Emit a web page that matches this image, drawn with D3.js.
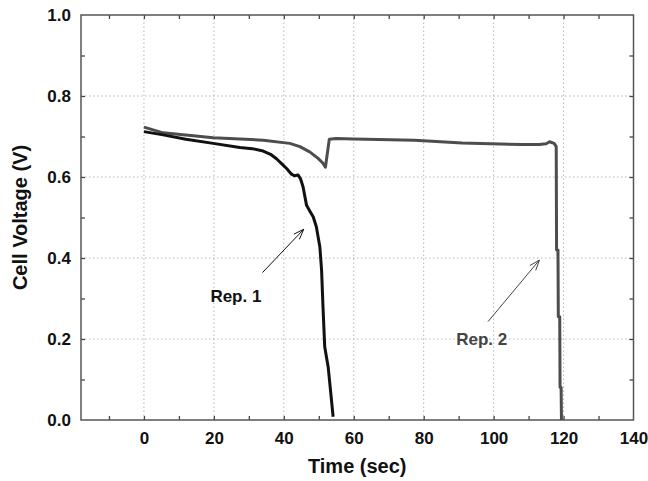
<!DOCTYPE html>
<html>
<head>
<meta charset="utf-8">
<script src="https://cdn.jsdelivr.net/npm/d3@7"></script>
<style>
  html, body { margin: 0; padding: 0; background: #fff; }
  svg { display: block; }
  text { font-family: "Liberation Sans", Arial, sans-serif; font-weight: bold; }
</style>
</head>
<body>
<svg id="chart" width="648" height="481"></svg>
<script>
// ---- data ----
const rep1Time = [0, 5.5, 12, 19.8, 27.4, 31, 34.1, 36.2, 37.9, 39.5, 40.8, 42.2, 43.0, 44.1, 44.8, 45.5, 46.5, 47.5, 48.4, 49.3, 50.3, 50.8, 51.2, 51.7, 52.7, 54.1];
const rep1Volt = [0.712, 0.704, 0.693, 0.683, 0.673, 0.670, 0.664, 0.656, 0.645, 0.632, 0.621, 0.607, 0.603, 0.605, 0.595, 0.576, 0.530, 0.515, 0.502, 0.477, 0.428, 0.37, 0.28, 0.18, 0.13, 0.008];

const rep2Time = [0, 5.5, 19.8, 34.1, 41.7, 44.6, 47.4, 49.8, 51.2, 51.9, 53.0, 55, 60, 77.4, 91, 108, 113, 115, 116, 117.3, 117.9, 118.0, 118.4, 118.5, 118.9, 119.0, 119.3, 119.4];
const rep2Volt = [0.723, 0.709, 0.697, 0.691, 0.683, 0.675, 0.662, 0.646, 0.634, 0.624, 0.693, 0.695, 0.694, 0.691, 0.684, 0.680, 0.680, 0.682, 0.687, 0.683, 0.675, 0.42, 0.42, 0.255, 0.255, 0.08, 0.08, 0.0];

const xMajorTicks = [0, 20, 40, 60, 80, 100, 120, 140];
const xMinorTicks = [-10, 0, 10, 20, 30, 40, 50, 60, 70, 80, 90, 100, 110, 120, 130];
const yMajorTicks = [0.0, 0.2, 0.4, 0.6, 0.8, 1.0];
const yMinorTicks = [0.1, 0.2, 0.3, 0.4, 0.5, 0.6, 0.7, 0.8, 0.9];
const xGrid = [0, 20, 40, 60, 80, 100, 120];
const yGrid = [0.2, 0.4, 0.6, 0.8];

const annotations = [
  { label: "Rep. 1", textT: 19, textV: 0.292, fromT: 33.9, fromV: 0.364, toT: 45.7, toV: 0.471, color: "#111" },
  { label: "Rep. 2", textT: 89.3, textV: 0.185, fromT: 98.4, fromV: 0.243, toT: 113.1, toV: 0.395, color: "#444" }
];

// ---- layout ----
const W = 648, H = 481;
const m = { left: 81, top: 15, right: 14.5, bottom: 61 };
const svg = d3.select("#chart");

const x = d3.scaleLinear().domain([-18, 140]).range([m.left, W - m.right]);
const y = d3.scaleLinear().domain([0, 1]).range([H - m.bottom, m.top]);

// grid
const grid = svg.append("g").attr("stroke", "#b8b8b8").attr("stroke-width", 1).attr("stroke-dasharray", "1.5,2.5");
grid.selectAll(".gx").data(xGrid).join("line")
  .attr("x1", d => x(d)).attr("x2", d => x(d)).attr("y1", y(0)).attr("y2", y(1));
grid.selectAll(".gy").data(yGrid).join("line")
  .attr("y1", d => y(d)).attr("y2", d => y(d)).attr("x1", x(-18)).attr("x2", x(140));

// ticks (inward, all four sides)
const tickLen = 4;
const tickColor = "#444";
function ticks(axisGen, transform) {
  const g = svg.append("g").attr("transform", transform).call(axisGen);
  g.select(".domain").remove();
  g.selectAll("line").attr("stroke", tickColor).attr("stroke-width", 1.3);
  return g;
}
ticks(d3.axisBottom(x).tickValues(xMinorTicks).tickSize(-tickLen).tickFormat(""), `translate(0,${y(0)})`);
ticks(d3.axisTop(x).tickValues(xMinorTicks).tickSize(-tickLen).tickFormat(""), `translate(0,${y(1)})`);
ticks(d3.axisLeft(y).tickValues(yMinorTicks).tickSize(-tickLen).tickFormat(""), `translate(${x(-18)},0)`);
ticks(d3.axisRight(y).tickValues(yMinorTicks).tickSize(-tickLen).tickFormat(""), `translate(${x(140)},0)`);

// tick labels
const xl = svg.append("g").attr("transform", `translate(0,${y(0)})`)
  .call(d3.axisBottom(x).tickValues(xMajorTicks).tickSize(0).tickPadding(12).tickFormat(d3.format("d")));
xl.select(".domain").remove();
xl.selectAll("text").attr("font-size", 17).attr("font-weight", "bold").attr("fill", "#111")
  .attr("font-family", "Liberation Sans, Arial, sans-serif");

const yl = svg.append("g").attr("transform", `translate(${x(-18)},0)`)
  .call(d3.axisLeft(y).tickValues(yMajorTicks).tickSize(0).tickPadding(10).tickFormat(d3.format(".1f")));
yl.select(".domain").remove();
yl.selectAll("text").attr("font-size", 17).attr("font-weight", "bold").attr("fill", "#111")
  .attr("font-family", "Liberation Sans, Arial, sans-serif");

// frame
svg.append("rect").attr("x", x(-18)).attr("y", y(1))
  .attr("width", x(140) - x(-18)).attr("height", y(0) - y(1))
  .attr("fill", "none").attr("stroke", "#555").attr("stroke-width", 1.5);

// lines
const line = d3.line().x(d => x(d[0])).y(d => y(d[1]));
svg.append("path").datum(d3.zip(rep2Time, rep2Volt))
  .attr("d", line).attr("fill", "none").attr("stroke", "#4d4d4d").attr("stroke-width", 3)
  .attr("stroke-linejoin", "round");
svg.append("path").datum(d3.zip(rep1Time, rep1Volt))
  .attr("d", line).attr("fill", "none").attr("stroke", "#111").attr("stroke-width", 3)
  .attr("stroke-linejoin", "round");

// annotations
annotations.forEach(a => {
  const x1 = x(a.fromT), y1 = y(a.fromV), x2 = x(a.toT), y2 = y(a.toV);
  svg.append("line").attr("x1", x1).attr("y1", y1).attr("x2", x2).attr("y2", y2)
    .attr("stroke", a.color).attr("stroke-width", 1);
  const ang = Math.atan2(y2 - y1, x2 - x1);
  const hl = 11, ha = 0.35;
  const p1 = [x2 - hl * Math.cos(ang - ha), y2 - hl * Math.sin(ang - ha)];
  const p2 = [x2 - hl * Math.cos(ang + ha), y2 - hl * Math.sin(ang + ha)];
  svg.append("path").attr("d", `M${p1[0]},${p1[1]}L${x2},${y2}L${p2[0]},${p2[1]}`)
    .attr("fill", "none").attr("stroke", a.color).attr("stroke-width", 1);
  svg.append("text").attr("x", x(a.textT)).attr("y", y(a.textV))
    .attr("font-size", 17).attr("fill", a.color).text(a.label);
});

// axis titles
svg.append("text").attr("x", (x(-18) + x(140)) / 2).attr("y", 473)
  .attr("text-anchor", "middle").attr("font-size", 20).attr("fill", "#111").text("Time (sec)");
svg.append("text").attr("transform", `translate(27,${(y(0) + y(1)) / 2}) rotate(-90)`)
  .attr("text-anchor", "middle").attr("font-size", 20).attr("fill", "#111").text("Cell Voltage (V)");
</script>
</body>
</html>
